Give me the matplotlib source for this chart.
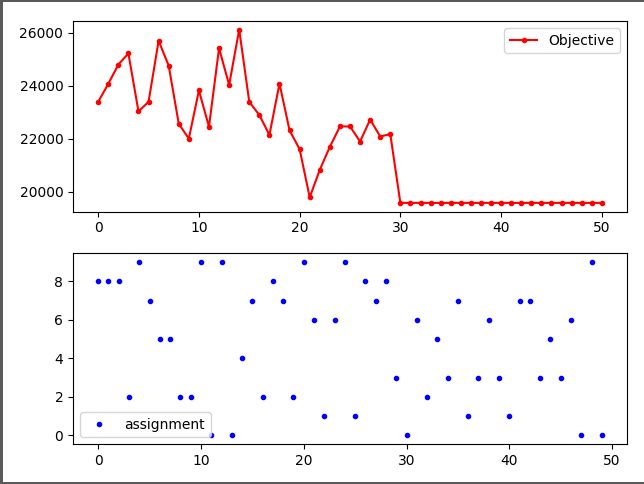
import matplotlib
matplotlib.use('Agg')
import matplotlib.pyplot as plt
from matplotlib.patches import Rectangle

# objective value per iteration (0..50)
iterations = list(range(51))
objective = [23390, 24070, 24800, 25220, 23030, 23390, 25700, 24760, 22560, 22000,
             23820, 22450, 25420, 24030, 26120, 23390, 22890, 22140, 24080, 22310,
             21600, 19780, 20820, 21690, 22460, 22460, 21890, 22720, 22080, 22170] + [19570] * 21

# assignment per index (0..49)
indices = list(range(50))
assignment = [8, 8, 8, 2, 9, 7, 5, 5, 2, 2, 9, 0, 9, 0, 4, 7, 2, 8, 7, 2,
              9, 6, 1, 6, 9, 1, 8, 7, 8, 3, 0, 6, 2, 5, 3, 7, 1, 3, 6, 3,
              1, 7, 7, 3, 5, 3, 6, 0, 9, 0]

W, H = 644, 484
fig, (ax1, ax2) = plt.subplots(2, 1, figsize=(W / 100, H / 100), dpi=100)
fig.subplots_adjust(left=73 / W, right=627 / W, top=1 - 21 / H, bottom=1 - 444 / H, hspace=0.22)

ax1.plot(iterations, objective, 'r.-', label='Objective')
ax1.legend(loc='upper right')

ax2.plot(indices, assignment, 'b.', label='assignment')
ax2.legend(loc='lower left')

# window frame around the screenshot
frame = '#5a5a5a'
fig.add_artist(Rectangle((0, 0), 3 / W, 1, transform=fig.transFigure, color=frame, lw=0))
fig.add_artist(Rectangle((0, 1 - 2 / H), 1, 2 / H, transform=fig.transFigure, color=frame, lw=0))
fig.add_artist(Rectangle((0, 0), 1, 2 / H, transform=fig.transFigure, color=frame, lw=0))

fig.savefig('out.png', dpi=100)
